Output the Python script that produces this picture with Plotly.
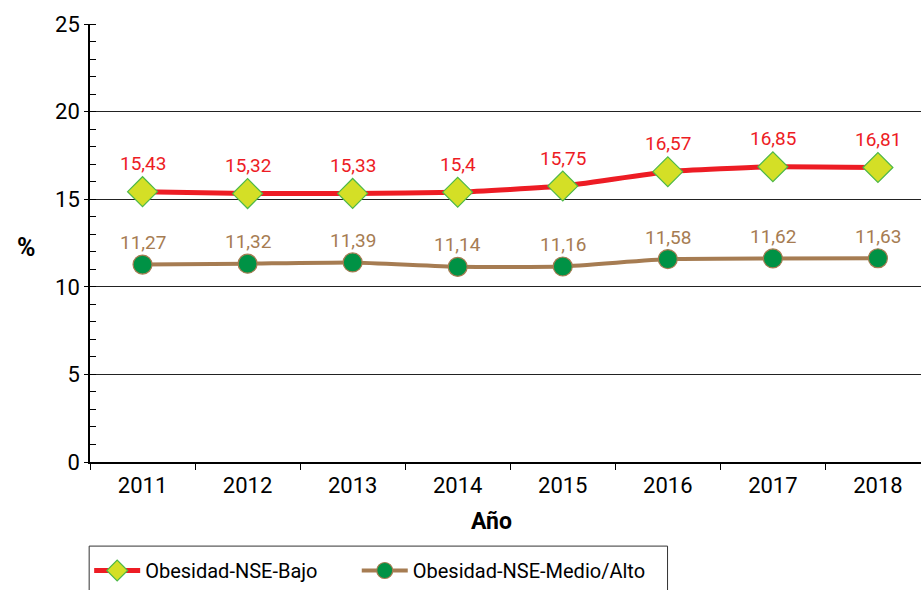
import plotly.graph_objects as go

years = ["2011", "2012", "2013", "2014", "2015", "2016", "2017", "2018"]
bajo = [15.43, 15.32, 15.33, 15.40, 15.75, 16.57, 16.85, 16.81]
medio = [11.27, 11.32, 11.39, 11.14, 11.16, 11.58, 11.62, 11.63]
bajo_labels = ["15,43", "15,32", "15,33", "15,4", "15,75", "16,57", "16,85", "16,81"]
medio_labels = ["11,27", "11,32", "11,39", "11,14", "11,16", "11,58", "11,62", "11,63"]

RED = "#ED1C24"
BROWN = "#A67C52"
FONT = "Roboto"

fig = go.Figure()
fig.add_trace(go.Scatter(
    x=years, y=bajo, name="Obesidad-NSE-Bajo", mode="lines+markers", legend="legend",
    line=dict(color=RED, width=5, shape="spline", smoothing=0.4),
    marker=dict(symbol="diamond", size=23, color="#D4DF26", line=dict(color="#4DB848", width=1.2)),
))
fig.add_trace(go.Scatter(
    x=years, y=medio, name="Obesidad-NSE-Medio/Alto", mode="lines+markers", legend="legend2",
    line=dict(color=BROWN, width=4, shape="spline", smoothing=0.4),
    marker=dict(symbol="circle", size=19, color="#009245", line=dict(color=BROWN, width=1.2)),
))

annotations = []
for i, (y, t) in enumerate(zip(bajo, bajo_labels)):
    annotations.append(dict(x=i, y=y, xref="x", yref="y", text=t, showarrow=False, yshift=28,
                            font=dict(family=FONT, size=19, color=RED)))
for i, (y, t) in enumerate(zip(medio, medio_labels)):
    annotations.append(dict(x=i, y=y, xref="x", yref="y", text=t, showarrow=False, yshift=22,
                            font=dict(family=FONT, size=19, color=BROWN)))
annotations.append(dict(xref="paper", yref="paper", x=-0.077, y=0.489, text="<b>%</b>",
                        xanchor="center", yanchor="middle",
                        showarrow=False, font=dict(family=FONT, size=25, color="black")))
annotations.append(dict(xref="paper", yref="paper", x=0.483, y=-0.135, text="<b>Año</b>",
                        xanchor="center", yanchor="middle",
                        showarrow=False, font=dict(family=FONT, size=23, color="black")))

legend_common = dict(orientation="h", xanchor="left", yanchor="top", borderwidth=0,
                     bgcolor="rgba(0,0,0,0)", font=dict(family=FONT, size=20), itemwidth=46)

fig.update_layout(
    width=921, height=590,
    margin=dict(l=90, r=0, t=24, b=128),
    paper_bgcolor="white", plot_bgcolor="white",
    font=dict(family=FONT, size=22, color="black"),
    annotations=annotations,
    showlegend=True,
    legend=dict(x=-0.001, y=-0.204, **legend_common),
    legend2=dict(x=0.321, y=-0.204, **legend_common),
    shapes=[dict(type="rect", xref="paper", yref="paper", x0=-0.001, x1=0.695,
                 y0=-0.45, y1=-0.192, line=dict(color="#333333", width=1),
                 fillcolor="rgba(0,0,0,0)", layer="above")],
)
fig.update_xaxes(
    type="category", range=[-0.5, 7.41],
    showline=True, linecolor="black", linewidth=1.5,
    ticks="outside", tickson="boundaries", ticklen=6, tickcolor="black",
    showgrid=False, tickfont=dict(family=FONT, size=22), ticklabelstandoff=3,
)
fig.update_yaxes(
    range=[0, 25], dtick=5, tick0=0,
    showline=True, linecolor="black", linewidth=1.5,
    ticks="outside", ticklen=4, tickcolor="black",
    showgrid=True, gridcolor="#222222", gridwidth=1,
    zeroline=False,
    minor=dict(dtick=1, ticks="inside", ticklen=6, tickcolor="black", showgrid=False),
    tickfont=dict(family=FONT, size=22),
)

fig.write_html("out.html", config={"displayModeBar": False},
               post_script="document.body.style.margin='0';document.body.style.overflow='hidden';")
